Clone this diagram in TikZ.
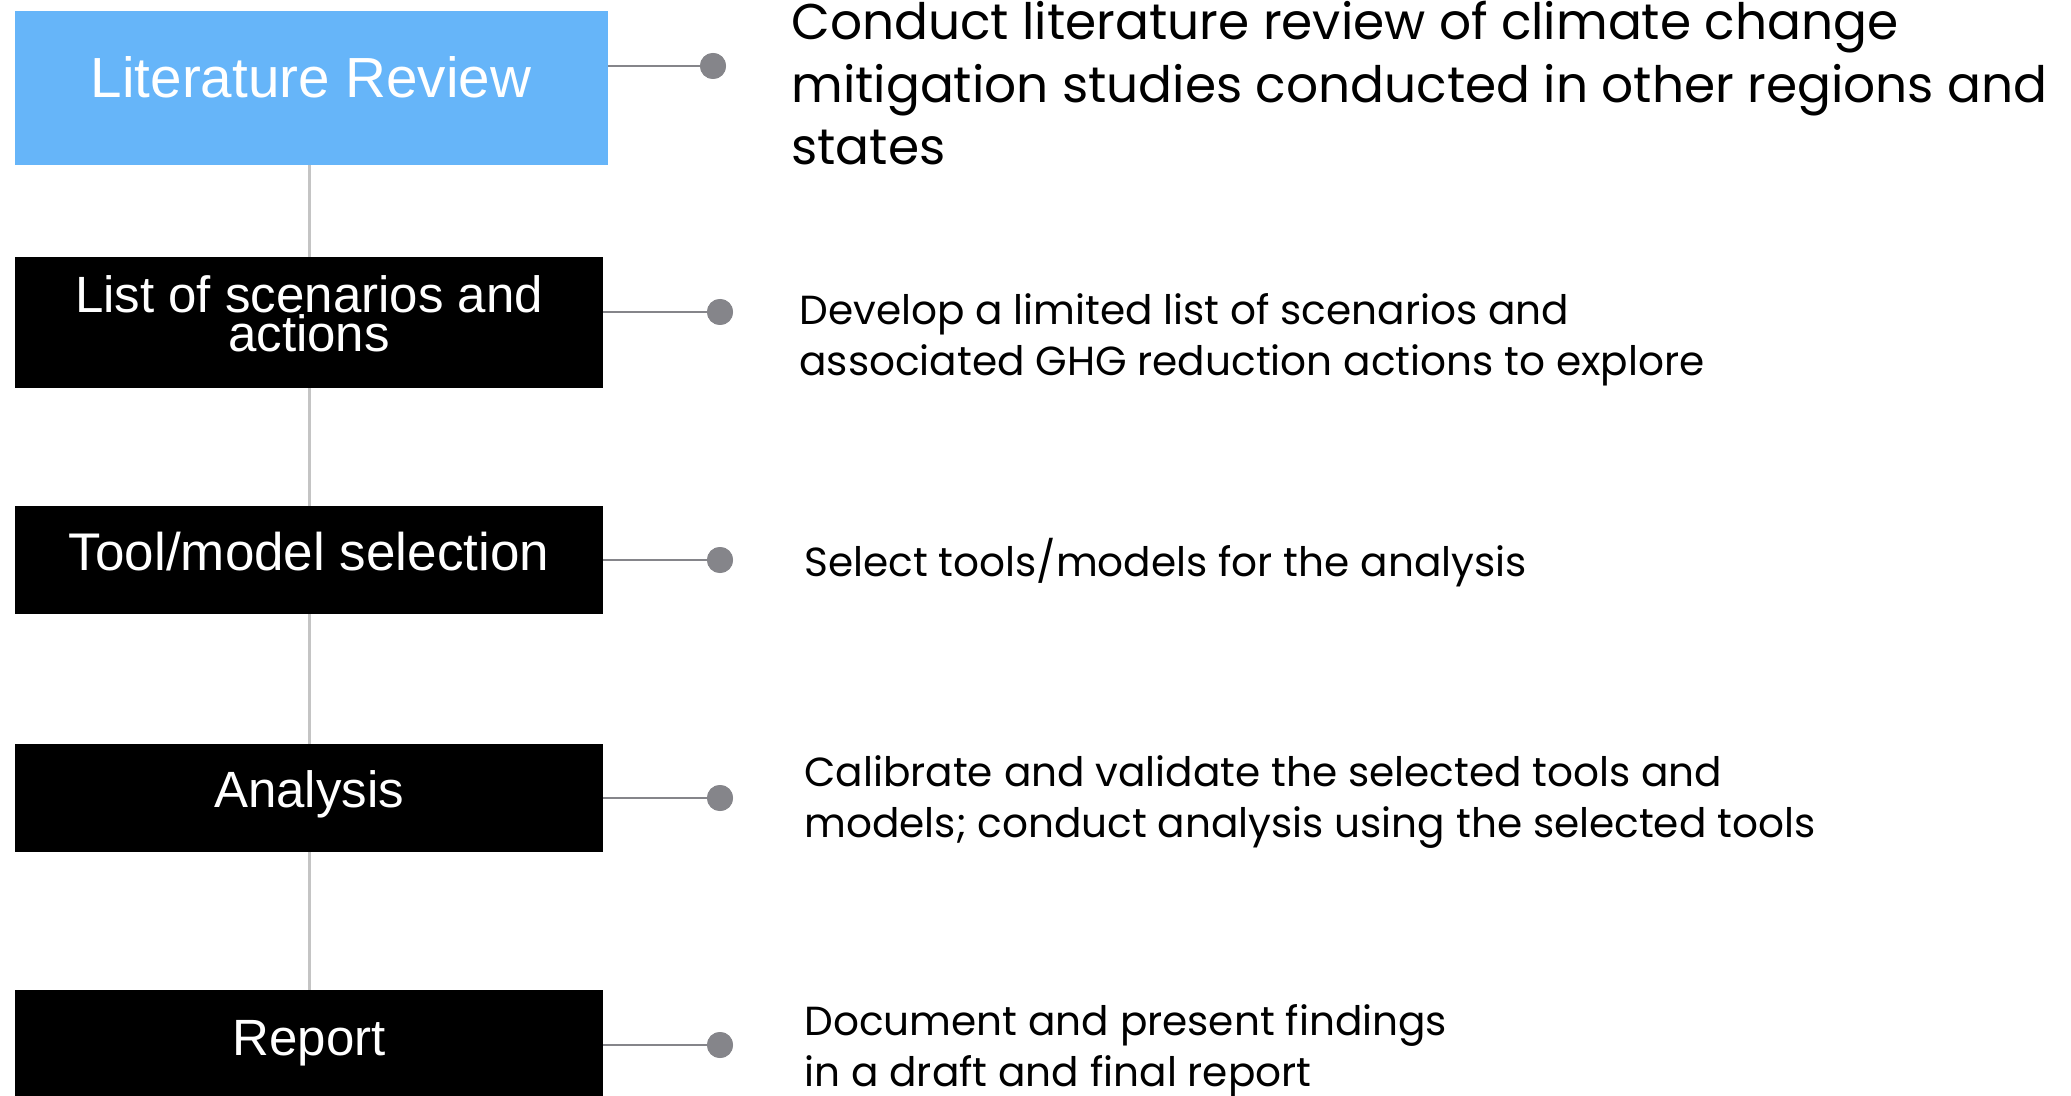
\documentclass[tikz,border=0pt]{standalone}
\usepackage{fontspec}
\setmainfont{Poppins}
\newfontfamily\boxfont{Liberation Sans}
\usepackage{xcolor}
\definecolor{lit_blue}{HTML}{66B5F9}
\definecolor{link_gray}{HTML}{85858A}
\definecolor{spine_gray}{HTML}{C4C4C4}

\begin{document}
\begin{tikzpicture}[x=0.5pt,y=-0.5pt,
  stepbox/.style={rectangle,fill=black,inner sep=0pt,minimum width=294pt},
  boxlabel/.style={text=white,align=center,font=\boxfont\fontsize{25.5}{19.5}\selectfont},
  dotmark/.style={circle,fill=link_gray,inner sep=0pt,minimum size=13pt},
  link/.style={link_gray,line width=1.3pt},
  note/.style={anchor=base west,align=left,inner sep=0pt,font=\fontsize{20.3}{25.5}\selectfont}]
  \useasboundingbox (0,0) rectangle (2071,1096);
  %ボックス
  \node[stepbox,fill=lit_blue,minimum width=296.5pt,minimum height=77pt] (box1) at (311.5,88) {};
  \node[stepbox,minimum height=65.5pt] (box2) at (309,322.5) {};
  \node[stepbox,minimum height=54pt] (box3) at (309,560) {};
  \node[stepbox,minimum height=54pt] (box4) at (309,798) {};
  \node[stepbox,minimum height=54pt] (box5) at (309,1044) {};
  \draw[spine_gray,line width=1.5pt] (box1.south -| box2)--(box2.north) (box2.south)--(box3.north)
    (box3.south)--(box4.north) (box4.south)--(box5.north);
  %ラベル
  \node[boxlabel,font=\boxfont\fontsize{28.3}{28}\selectfont,anchor=base] (lbl1) at (311,98) {Literature Review};
  \node[boxlabel] (lbl2) at (309,314) {List of scenarios and\\actions};
  \node[boxlabel,font=\boxfont\fontsize{26.5}{19.5}\selectfont] (lbl3) at (309,552) {Tool/model selection};
  \node[boxlabel] (lbl4) at (309,794) {Analysis};
  \node[boxlabel] (lbl5) at (309,1043) {Report};
  %点と線
  \node[dotmark] (dot1) at (713,66) {};
  \node[dotmark] (dot2) at (720,312) {};
  \node[dotmark] (dot3) at (720,560) {};
  \node[dotmark] (dot4) at (720,798) {};
  \node[dotmark] (dot5) at (720,1045) {};
  \foreach \i in {1,...,5}
    \draw[link] (box\i.east |- dot\i)--(dot\i.center);
  \foreach \i in {1,...,5}
    \node[dotmark] at (dot\i) {};
  %説明
  \node[note,font=\fontsize{25.1}{31.35}\selectfont] (txt1) at (791,165) {Conduct literature review of climate change\\mitigation studies conducted in other regions and\\states};
  \node[note] (txt2) at (799,376) {Develop a limited list of scenarios and\\associated GHG reduction actions to explore};
  \node[note] (txt3) at (804,576) {Select tools/models for the analysis};
  \node[note] (txt4) at (804,837) {Calibrate and validate the selected tools and\\models; conduct analysis using the selected tools};
  \node[note] (txt5) at (804,1086) {Document and present findings\\in a draft and final report};
\end{tikzpicture}
\end{document}
